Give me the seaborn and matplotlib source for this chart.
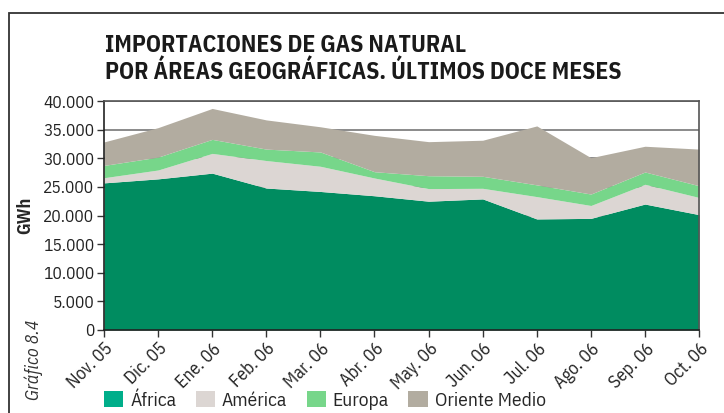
import numpy as np
import pandas as pd
import seaborn as sns
import matplotlib.pyplot as plt
from matplotlib.patches import Patch, Rectangle

# monthly imports by area (GWh)
months = ['Nov. 05', 'Dic. 05', 'Ene. 06', 'Feb. 06', 'Mar. 06', 'Abr. 06',
          'May. 06', 'Jun. 06', 'Jul. 06', 'Ago. 06', 'Sep. 06', 'Oct. 06']
africa = [25700, 26400, 27400, 24800, 24200, 23450, 22500, 22900, 19400, 19500, 22000, 20150]
america = [900, 1550, 3450, 4800, 4400, 3100, 2200, 1850, 3900, 2250, 3450, 3000]
europa = [2150, 2250, 2450, 2000, 2500, 1100, 2250, 2100, 2050, 2000, 2150, 2050]
oriente = [4100, 5150, 5400, 5100, 4400, 6350, 5950, 6300, 10300, 6350, 4500, 6400]
y_ticks = [0, 5000, 10000, 15000, 20000, 25000, 30000, 35000, 40000]

series = ['África', 'América', 'Europa', 'Oriente Medio']
area_cols = ['#008C60', '#DCD6D3', '#77D68A', '#B2ACA0']
legend_cols = ['#00AE8A', '#DCD6D3', '#77D68A', '#B2ACA0']

df = pd.DataFrame({'mes': months, 'África': africa, 'América': america,
                   'Europa': europa, 'Oriente Medio': oriente})

sns.set_style('white')
plt.rcParams['font.family'] = ['IBM Plex Sans Condensed', 'DejaVu Sans']

fig = plt.figure(figsize=(7.24, 4.13), dpi=100)
ax = fig.add_axes([0.1436, 0.201, 0.822, 0.5544])

x = np.arange(len(df))
ax.stackplot(x, [df[s] for s in series], colors=area_cols, linewidth=0, zorder=2)

ax.set_xlim(0, len(df) - 1)
ax.set_ylim(0, 40000)
ax.set_yticks(y_ticks)
ax.set_yticklabels([f'{v:,}'.replace(',', '.') for v in y_ticks], fontsize=12.5, color='#222222')
ax.set_xticks(x)
ax.set_xticklabels(df['mes'], rotation=45, ha='right', rotation_mode='anchor',
                   fontsize=13, color='#222222')
ax.tick_params(axis='both', direction='out', length=5, width=1, color='#333333',
               bottom=True, left=True, pad=2)
ax.yaxis.grid(True, color='#777777', linewidth=1.2, zorder=1)
ax.set_axisbelow(True)
for side in ['left', 'bottom']:
    ax.spines[side].set_color('#222222')
    ax.spines[side].set_linewidth(1.2)
for side in ['top', 'right']:
    ax.spines[side].set_color('#555555')
    ax.spines[side].set_linewidth(1.2)

ax.set_ylabel('GWh', fontsize=13, fontweight='bold', labelpad=6)

fig.text(0.145, 0.857, 'IMPORTACIONES DE GAS NATURAL\nPOR ÁREAS GEOGRÁFICAS. ÚLTIMOS DOCE MESES',
         fontsize=17, fontweight='bold', color='#1a1a1a', va='center', ha='left',
         linespacing=1.2)
fig.text(0.047, 0.128, 'Gráfico 8.4', rotation=90, fontsize=13, style='italic',
         color='#333333', ha='center', va='center')

handles = [Patch(facecolor=c, edgecolor='none') for c in legend_cols]
fig.legend(handles, series, loc='center left', bbox_to_anchor=(0.1436, 0.031), ncol=4,
           frameon=False, fontsize=14, handlelength=1.0, handleheight=0.9,
           handletextpad=0.35, columnspacing=1.0, borderpad=0, borderaxespad=0)

# frame around the chart (only left and top edges show in the crop)
fig.add_artist(Rectangle((0.0125, -0.1), 1.2, 1.068, transform=fig.transFigure,
                         fill=False, edgecolor='#333333', linewidth=1.3))

fig.savefig('out.png', dpi=100)
